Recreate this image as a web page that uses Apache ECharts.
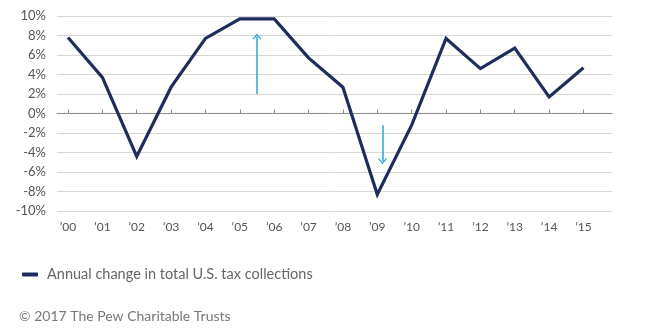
<!DOCTYPE html>
<html><head><meta charset="utf-8">
<script src="https://cdn.jsdelivr.net/npm/echarts@6/dist/echarts.min.js"></script>
<style>html,body{margin:0;padding:0;background:#fff}#c{width:650px;height:330px}</style>
</head><body><div id="c"></div>
<script>
const years = ['’00','’01','’02','’03','’04','’05','’06','’07','’08','’09','’10','’11','’12','’13','’14','’15'];
const taxChange = [7.8, 3.7, -4.4, 2.7, 7.7, 9.7, 9.7, 5.7, 2.7, -8.3, -1.2, 7.7, 4.6, 6.7, 1.7, 4.7];
const yTicks = [-10, 10, 2];
const arrowUp = [[5.5, 2.0], [5.5, 7.9]];
const arrowDown = [[9.15, -1.2], [9.15, -4.9]];

const font = 'Lato, "Open Sans", sans-serif';
const chevron = 'path://M0,10 L10,0 L20,10 L17.5,11 L10,3.5 L2.5,11 Z';
const idx = years.map((_, i) => i);
const chart = echarts.init(document.getElementById('c'));
chart.setOption({
  animation: false,
  textStyle: {fontFamily: font},
  grid: {left: 57, right: 38, top: 16, bottom: 119},
  title: {text: '© 2017 The Pew Charitable Trusts', left: 14, top: 304,
    textStyle: {fontFamily: font, fontSize: 14, fontWeight: 'normal', color: '#777'}},
  legend: {left: 17, top: 262, icon: 'roundRect', itemWidth: 16, itemHeight: 4,
    textStyle: {fontFamily: font, fontSize: 14.5, color: '#666', padding: [0, 0, 0, 4]},
    data: ['Annual change in total U.S. tax collections']},
  xAxis: [{
    type: 'value', min: -0.32, max: 15.83, position: 'bottom',
    axisLine: {show: false, onZero: false}, axisTick: {show: false}, splitLine: {show: false},
    axisLabel: {margin: 10, fontSize: 12, color: '#555', fontFamily: font,
      customValues: idx,
      formatter: v => years[Math.round(v)]}
  }, {
    type: 'value', min: -0.32, max: 15.83, position: 'top',
    axisLine: {show: true, onZero: true, lineStyle: {color: '#8a8a8a', width: 1}},
    axisTick: {show: true, length: 4, lineStyle: {color: '#8a8a8a'}, customValues: idx},
    axisLabel: {show: false}, splitLine: {show: false}
  }],
  yAxis: {
    type: 'value', min: yTicks[0], max: yTicks[1], interval: yTicks[2],
    axisLine: {show: false}, axisTick: {show: false},
    axisLabel: {margin: 11, fontSize: 13, color: '#555', fontFamily: font, formatter: '{value}%'},
    splitLine: {lineStyle: {color: '#d6d6d6', width: 1}}
  },
  series: [{
    name: 'Annual change in total U.S. tax collections',
    type: 'line', xAxisIndex: 0,
    data: taxChange.map((v, i) => [i, v]),
    symbol: 'none',
    lineStyle: {color: '#1f2d5c', width: 3.2, join: 'miter'},
    itemStyle: {color: '#1f2d5c'},
    markLine: {
      silent: true, symbol: ['none', chevron], symbolSize: [9, 6],
      label: {show: false},
      lineStyle: {color: '#2aa6d5', width: 1.5, type: 'solid'},
      data: [
        [{coord: arrowUp[0]}, {coord: arrowUp[1]}],
        [{coord: arrowDown[0]}, {coord: arrowDown[1]}]
      ]
    }
  }]
});
</script></body></html>
